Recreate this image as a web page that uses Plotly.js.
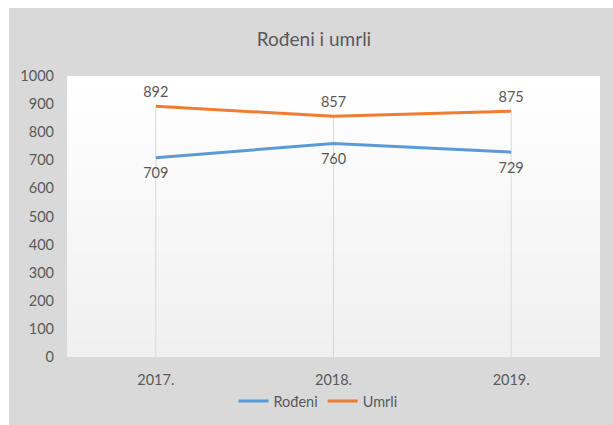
<!DOCTYPE html>
<html>
<head>
<meta charset="utf-8">
<script src="https://cdn.plot.ly/plotly-3.0.1.min.js"></script>
<style>html,body{margin:0;padding:0;background:#fff;}#chart{width:613px;height:425px;}</style>
</head>
<body>
<div id="chart"></div>
<script>
const categories = ['2017.', '2018.', '2019.'];
const rodjeni = [709, 760, 729];
const umrli = [892, 857, 875];
const seriesNames = ['Rođeni', 'Umrli'];
const chartTitle = 'Rođeni i umrli';

const FONT = 'Lato, "Open Sans", sans-serif';
const GRAY = '#595959';
const FS = 14.5;

const dropTop = categories.map((c, i) => Math.max(rodjeni[i], umrli[i]));

// plot-area gradient (white top -> #f0f0f0 bottom), overlapping bands to avoid seams
const shapes = [];
const nb = 16;
for (let k = 0; k < nb; k++) {
  const v = Math.round(255 - k * 15 / (nb - 1));
  const c = `rgb(${v},${v},${v})`;
  shapes.push({type:'rect', xref:'paper', yref:'paper', x0:0, x1:1,
    y1: 1 - k/nb, y0: 0, fillcolor:c, line:{width:0}, layer:'below'});
}
// white strips outside the gray chart frame
shapes.push({type:'rect', xref:'paper', yref:'paper', x0:-0.2, x1:(9-67)/533, y0:-0.5, y1:1.5, fillcolor:'#ffffff', line:{width:0}, layer:'below'});
shapes.push({type:'rect', xref:'paper', yref:'paper', x0:-0.2, x1:1.2, y0:(357-8)/281, y1:1.5, fillcolor:'#ffffff', line:{width:0}, layer:'below'});

const traces = [
  {x: categories, y: dropTop, type:'scatter', mode:'markers',
   marker:{size:1, color:'rgba(0,0,0,0)'}, showlegend:false, hoverinfo:'skip',
   error_y:{type:'data', symmetric:false, array:[0,0,0], arrayminus:dropTop, color:'#d9d9d9', thickness:1, width:0}},
  {x: categories, y: rodjeni, name: seriesNames[0], type:'scatter', mode:'lines+markers+text',
   line:{color:'#5B9BD5', width:3}, marker:{size:14, color:'rgba(0,0,0,0)'},
   text: rodjeni.map(String), textposition:'bottom center',
   textfont:{family:FONT, size:FS, color:GRAY}},
  {x: categories, y: umrli, name: seriesNames[1], type:'scatter', mode:'lines+markers+text',
   line:{color:'#ED7D31', width:3}, marker:{size:7, color:'rgba(0,0,0,0)'},
   text: umrli.map(String), textposition:'top center',
   textfont:{family:FONT, size:FS, color:GRAY}}
];

const layout = {
  width: 613, height: 425,
  autosize: false,
  margin: {l:67, r:13, t:76, b:68, pad:0, autoexpand:false},
  paper_bgcolor: '#d9d9d9',
  plot_bgcolor: 'rgba(0,0,0,0)',
  font: {family: FONT, size: FS, color: GRAY},
  title: {text: chartTitle, font:{family:FONT, size:19, color:GRAY},
          x: 314/613, xref:'container', xanchor:'center', y: 1 - 39/425, yref:'container', yanchor:'middle'},
  xaxis: {type:'category', range:[-0.5, 2.5], showgrid:false, zeroline:false, showline:false,
          ticks:'outside', ticklen:10, tickcolor:'rgba(0,0,0,0)', tickfont:{family:FONT, size:FS, color:GRAY}},
  yaxis: {range:[0, 1000], dtick:100, showgrid:false, zeroline:false, showline:false,
          ticks:'', ticklabelstandoff:12, tickfont:{family:FONT, size:FS, color:GRAY}},
  showlegend: true,
  legend: {orientation:'h', x:(318-67)/533, xanchor:'center', y:(357-401)/281, yanchor:'middle',
           bgcolor:'rgba(0,0,0,0)', itemwidth:30, font:{family:FONT, size:FS, color:GRAY}},
  shapes: shapes,
  hovermode: false
};

Plotly.newPlot('chart', traces, layout, {displayModeBar:false, staticPlot:true});
</script>
</body>
</html>
